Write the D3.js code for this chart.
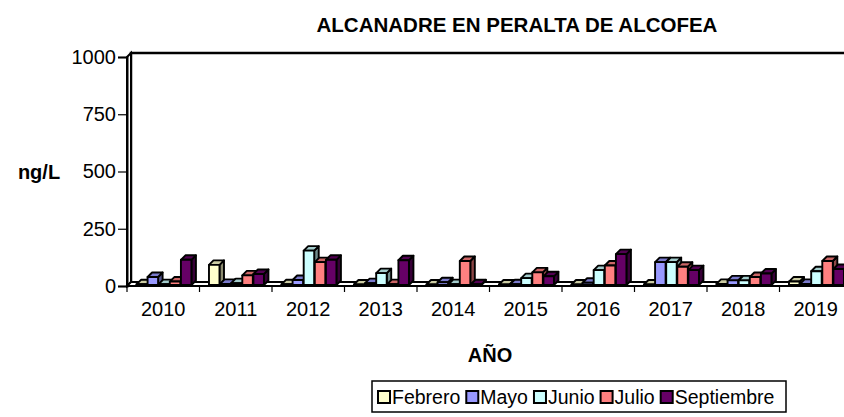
<!DOCTYPE html>
<html>
<head>
<meta charset="utf-8">
<script src="https://cdn.jsdelivr.net/npm/d3@7"></script>
<style>
  html, body { margin: 0; padding: 0; background: #fff; }
  svg { display: block; font-family: "Liberation Sans", Arial, sans-serif; }
</style>
</head>
<body>
<svg id="chart" width="844" height="417"></svg>
<script>
// ---- data ----
const years = ["2010","2011","2012","2013","2014","2015","2016","2017","2018","2019"];
const seriesNames = ["Febrero","Mayo","Junio","Julio","Septiembre"];
const febrero    = [3, 88, 3, 2, 2, 2, 2, 2, 5, 15];
const mayo       = [35, 5, 22, 8, 12, 3, 10, 100, 20, 5];
const junio      = [4, 8, 150, 52, 4, 30, 65, 100, 20, 60];
const julio      = [15, 42, 100, 4, 105, 55, 85, 80, 35, 105];
const septiembre = [110, 48, 110, 108, 3, 38, 135, 65, 50, 70];
const yTicks = [0, 250, 500, 750, 1000];
const colors = ["#FFFFCC", "#9999FF", "#CCFFFF", "#FF8080", "#660066"];

const seriesValues = [febrero, mayo, junio, julio, septiembre];

// ---- layout ----
const svg = d3.select("#chart");
const x0 = 127, groupW = 72.5;
const x = d3.scaleBand().domain(years).range([x0, x0 + groupW * years.length]).padding(0);
const xi = d3.scaleBand().domain(seriesNames).range([0, x.bandwidth()])
  .paddingInner(0.054).paddingOuter(0.79).align(0.54);
const y = d3.scaleLinear().domain([0, 1000]).range([286, 57]);
const wallD = 4;   // depth offset of the walls
const barD = 4.5;  // depth of bars

const xEnd = x0 + groupW * years.length;

// back wall
svg.append("path")
  .attr("d", `M${x0 + wallD},${y(0) - wallD} L${x0 + wallD},${y(1000) - wallD} L${xEnd + wallD},${y(1000) - wallD} L${xEnd + wallD},${y(0) - wallD}`)
  .attr("fill", "#fff").attr("stroke", "#000").attr("stroke-width", 2.5);
// side wall
svg.append("path")
  .attr("d", `M${x0},${y(0)} L${x0 + wallD},${y(0) - wallD} L${x0 + wallD},${y(1000) - wallD} L${x0},${y(1000)} Z`)
  .attr("fill", "#fff").attr("stroke", "#000").attr("stroke-width", 2);
// floor
svg.append("path")
  .attr("d", `M${x0},${y(0)} L${x0 + wallD},${y(0) - wallD} L${xEnd + wallD},${y(0) - wallD} L${xEnd},${y(0)} Z`)
  .attr("fill", "#fff").attr("stroke", "#000").attr("stroke-width", 2);

// y axis
const yAxis = d3.axisLeft(y).tickValues(yTicks).tickSize(9).tickPadding(2).tickFormat(d3.format("d"));
const ya = svg.append("g").attr("transform", `translate(${x0},0)`).call(yAxis);
ya.select(".domain").attr("stroke", "#000").attr("stroke-width", 2);
ya.selectAll(".tick line").attr("stroke", "#000").attr("stroke-width", 1.2);
ya.selectAll(".tick text").attr("font-size", 20).attr("fill", "#000")
  .attr("font-family", "Liberation Sans, Arial, sans-serif");

// x axis
const xAxis = d3.axisBottom(x).tickSize(0).tickPadding(16);
const xa = svg.append("g").attr("transform", `translate(0,${y(0)})`).call(xAxis);
xa.select(".domain").remove();
xa.selectAll(".tick text").attr("font-size", 20).attr("fill", "#000")
  .attr("font-family", "Liberation Sans, Arial, sans-serif");
// x tick marks at group boundaries
svg.append("g").selectAll("line").data(years).join("line")
  .attr("x1", d => x(d)).attr("x2", d => x(d))
  .attr("y1", y(0)).attr("y2", y(0) + 6)
  .attr("stroke", "#000").attr("stroke-width", 1.2);

// bars
function shade(c, k) { const h = d3.rgb(c); return d3.rgb(h.r * k, h.g * k, h.b * k).formatHex(); }
const barsG = svg.append("g");
years.forEach((yr, yi) => {
  seriesNames.forEach((s, si) => {
    const v = seriesValues[si][yi];
    const bx = x(yr) + xi(s), w = xi.bandwidth();
    const base = y(0) - 1, top = y(v) - 1;
    const g = barsG.append("g").attr("stroke", "#000").attr("stroke-width", 1.9).attr("stroke-linejoin", "round");
    g.append("path")
      .attr("d", `M${bx + w},${top} L${bx + w + barD},${top - barD} L${bx + w + barD},${base - barD} L${bx + w},${base} Z`)
      .attr("fill", shade(colors[si], 0.55));
    g.append("path")
      .attr("d", `M${bx},${top} L${bx + barD},${top - barD} L${bx + w + barD},${top - barD} L${bx + w},${top} Z`)
      .attr("fill", shade(colors[si], 0.8));
    g.append("rect").attr("x", bx).attr("y", top).attr("width", w).attr("height", Math.max(0, base - top))
      .attr("fill", colors[si]);
  });
});

// titles
svg.append("text").attr("x", 517).attr("y", 32).attr("text-anchor", "middle")
  .attr("font-size", 20.5).attr("font-weight", "bold").text("ALCANADRE EN PERALTA DE ALCOFEA");
svg.append("text").attr("x", 39).attr("y", 179).attr("text-anchor", "middle")
  .attr("font-size", 20).attr("font-weight", "bold").text("ng/L");
svg.append("text").attr("x", 490).attr("y", 362).attr("text-anchor", "middle")
  .attr("font-size", 20).attr("font-weight", "bold").text("AÑO");

// legend
const lg = svg.append("g");
lg.append("rect").attr("x", 372).attr("y", 381).attr("width", 414).attr("height", 31)
  .attr("fill", "#fff").attr("stroke", "#000").attr("stroke-width", 1.5);
let lx = 378;
seriesNames.forEach((s, si) => {
  lg.append("rect").attr("x", lx).attr("y", 391).attr("width", 12).attr("height", 12)
    .attr("fill", colors[si]).attr("stroke", "#000").attr("stroke-width", 2);
  const t = lg.append("text").attr("x", lx + 14).attr("y", 404).attr("font-size", 19.5).text(s);
  lx += 14 + t.node().getComputedTextLength() + 6;
});
</script>
</body>
</html>
